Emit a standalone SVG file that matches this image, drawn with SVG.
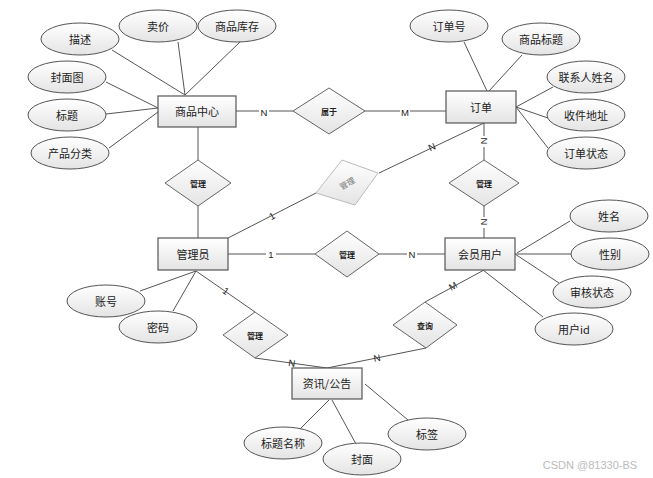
<svg xmlns="http://www.w3.org/2000/svg" width="653" height="478" viewBox="0 0 653 478">
<defs>
<linearGradient id="g" x1="0" y1="0" x2="0" y2="1"><stop offset="0" stop-color="#ffffff"/><stop offset="1" stop-color="#e4e4e4"/></linearGradient>
<style>
.e{fill:url(#g);stroke:#555;stroke-width:1}
.r{fill:url(#g);stroke:#555;stroke-width:1.2}
.d{fill:url(#g);stroke:#666;stroke-width:1}
.t{font-family:"Noto Sans CJK SC","Liberation Sans",sans-serif;font-size:11px;fill:#222;text-anchor:middle;dominant-baseline:central}
.s{font-family:"Noto Sans CJK SC","Liberation Sans",sans-serif;font-size:8px;font-weight:bold;fill:#222;text-anchor:middle;dominant-baseline:central}
.l{stroke:#555;stroke-width:1;fill:none}
.lb{font-family:"Liberation Sans",sans-serif;font-size:9.5px;fill:#222;text-anchor:middle;dominant-baseline:central}
.bg{fill:#fff}
</style>
</defs>
<rect width="653" height="478" fill="#fff"/>
<g id="connectors">
<path class="l" d="M112 50L185 95M178 42L185 95M240 42L185 95M106 82L158 108M106 114L158 108M109 148L158 112"/>
<path class="l" d="M236 111H293M364 111H446"/>
<path class="l" d="M198 127V160M198 206V238"/>
<path class="l" d="M464 42L487 91M522 55L489 91M553 87L516 107M548 118L516 107M548 148L516 107"/>
<path class="l" d="M484 123V160M484 206V238"/>
<path class="l" d="M484 123L379 173M228 238L316 193"/>
<path class="l" d="M228 254H315M379 254H445"/>
<path class="l" d="M517 253L570 221M515 254H571M515 254L559 283M483 270L543 317"/>
<path class="l" d="M484 270L425 302M426 348L327 368M196 271L255 312M255 358L327 368"/>
<path class="l" d="M300 429L329 400M356 444L332 400M365 384L408 420"/>
<path class="l" d="M140 291L196 271M173 311L196 271"/>
<g>
<rect class="bg" x="259" y="106" width="10" height="11"/><text class="lb" x="264" y="112">N</text>
<rect class="bg" x="400" y="106" width="10" height="11"/><text class="lb" x="405" y="112">M</text>
<rect class="bg" x="479" y="136" width="10" height="11"/><text class="lb" transform="translate(484 141) rotate(90)">N</text>
<rect class="bg" x="479" y="217" width="10" height="11"/><text class="lb" transform="translate(484 222) rotate(90)">N</text>
<text class="lb" transform="translate(432 147) rotate(-25)">N</text>
<text class="lb" transform="translate(272 216) rotate(-28)">1</text>
<rect class="bg" x="266" y="248" width="10" height="11"/><text class="lb" x="271" y="254">1</text>
<rect class="bg" x="407" y="248" width="10" height="11"/><text class="lb" x="412" y="254">N</text>
<text class="lb" transform="translate(453 286) rotate(-30)">M</text>
<text class="lb" transform="translate(226 291) rotate(35)">1</text>
<text class="lb" transform="translate(292 363) rotate(8)">N</text>
<text class="lb" transform="translate(377 358) rotate(-11)">N</text>
</g>
</g>
<g id="spzx"><rect class="r" x="158" y="96" width="78" height="31"/><text class="t" x="197" y="111">商品中心</text></g>
<g id="dd"><rect class="r" x="446" y="91" width="70" height="32"/><text class="t" x="481" y="107">订单</text></g>
<g id="gly"><rect class="r" x="158" y="238" width="70" height="32"/><text class="t" x="193" y="254">管理员</text></g>
<g id="hyyh"><rect class="r" x="445" y="238" width="70" height="32"/><text class="t" x="480" y="254">会员用户</text></g>
<g id="zxgg"><rect class="r" x="292" y="368" width="70" height="31"/><text class="t" x="327" y="383">资讯/公告</text></g>
<g id="a-ms"><ellipse class="e" cx="80" cy="39" rx="39" ry="16"/><text class="t" x="80" y="39">描述</text></g>
<g id="a-mj"><ellipse class="e" cx="158" cy="26" rx="39" ry="16"/><text class="t" x="158" y="26">卖价</text></g>
<g id="a-spkc"><ellipse class="e" cx="237" cy="26" rx="39" ry="16"/><text class="t" x="237" y="26">商品库存</text></g>
<g id="a-fmt"><ellipse class="e" cx="67" cy="77" rx="39" ry="16"/><text class="t" x="67" y="77">封面图</text></g>
<g id="a-bt"><ellipse class="e" cx="67" cy="115" rx="39" ry="16"/><text class="t" x="67" y="115">标题</text></g>
<g id="a-cpfl"><ellipse class="e" cx="70" cy="153" rx="39" ry="16"/><text class="t" x="70" y="153">产品分类</text></g>
<g id="a-ddh"><ellipse class="e" cx="449" cy="26" rx="39" ry="16"/><text class="t" x="449" y="26">订单号</text></g>
<g id="a-spbt"><ellipse class="e" cx="541" cy="39" rx="39" ry="16"/><text class="t" x="541" y="39">商品标题</text></g>
<g id="a-lxr"><ellipse class="e" cx="586" cy="77" rx="39" ry="16"/><text class="t" x="586" y="77">联系人姓名</text></g>
<g id="a-sjdz"><ellipse class="e" cx="586" cy="115" rx="39" ry="16"/><text class="t" x="586" y="115">收件地址</text></g>
<g id="a-ddzt"><ellipse class="e" cx="586" cy="153" rx="39" ry="16"/><text class="t" x="586" y="153">订单状态</text></g>
<g id="a-xm"><ellipse class="e" cx="609" cy="216" rx="39" ry="16"/><text class="t" x="609" y="216">姓名</text></g>
<g id="a-xb"><ellipse class="e" cx="610" cy="254" rx="39" ry="16"/><text class="t" x="610" y="254">性别</text></g>
<g id="a-shzt"><ellipse class="e" cx="592" cy="292" rx="39" ry="16"/><text class="t" x="592" y="292">审核状态</text></g>
<g id="a-yhid"><ellipse class="e" cx="574" cy="329" rx="39" ry="16"/><text class="t" x="574" y="329">用户id</text></g>
<g id="a-zh"><ellipse class="e" cx="106" cy="301" rx="39" ry="16"/><text class="t" x="106" y="301">账号</text></g>
<g id="a-mm"><ellipse class="e" cx="158" cy="327" rx="39" ry="16"/><text class="t" x="158" y="327">密码</text></g>
<g id="a-btmc"><ellipse class="e" cx="283" cy="443" rx="39" ry="16"/><text class="t" x="283" y="443">标题名称</text></g>
<g id="a-fm"><ellipse class="e" cx="362" cy="459" rx="39" ry="16"/><text class="t" x="362" y="459">封面</text></g>
<g id="a-bq"><ellipse class="e" cx="427" cy="434" rx="39" ry="16"/><text class="t" x="427" y="434">标签</text></g>
<g id="r-sy"><polygon class="d" points="293,111 329,88 365,111 329,134"/><text class="s" x="329" y="111">属于</text></g>
<g id="r-gl1"><polygon class="d" points="165,183 198,160 231,183 198,206"/><text class="s" x="198" y="183">管理</text></g>
<g id="r-gl2"><polygon class="d" points="449,183 484,160 519,183 484,206"/><text class="s" x="484" y="183">管理</text></g>
<g id="r-gl3"><polygon class="d" points="315,254 347,231 379,254 347,277"/><text class="s" x="347" y="254">管理</text></g>
<g id="r-gl4"><polygon class="d" points="223,335 255,312 288,335 255,358"/><text class="s" x="255" y="335">管理</text></g>
<g id="r-cx"><polygon class="d" points="393,325 425,302 457,325 426,348"/><text class="s" x="425" y="325">查询</text></g>
<g id="r-gl5"><polygon points="342,160 378,173 355,205 316,193" fill="url(#g)" stroke="#bbb" stroke-width="1"/><text class="s" style="fill:#777;font-weight:normal" transform="translate(347 183) rotate(-30)">管理</text></g>
<text x="590" y="465" font-family="Liberation Sans,sans-serif" font-size="11" fill="#bbb" text-anchor="middle" dominant-baseline="central">CSDN @81330-BS</text>
</svg>
